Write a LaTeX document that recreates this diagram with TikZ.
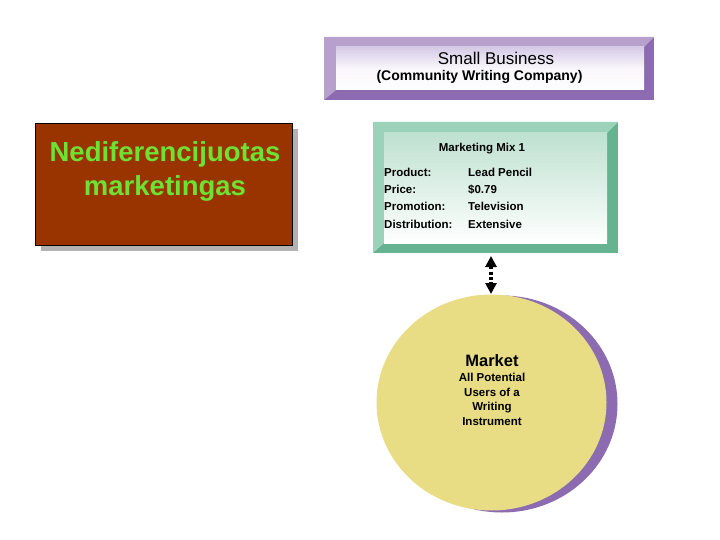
\documentclass[tikz,border=0pt]{standalone}
\usepackage{fontspec}
\setmainfont{Liberation Sans}
\usetikzlibrary{arrows.meta,shapes.geometric}
\definecolor{purpD}{RGB}{140,107,177}
\definecolor{purpL}{RGB}{183,160,204}
\definecolor{purpF}{RGB}{214,202,230}
\definecolor{greenD}{RGB}{102,179,145}
\definecolor{greenL}{RGB}{156,210,186}
\definecolor{greenF}{RGB}{190,225,208}
\definecolor{brownF}{RGB}{153,51,0}
\definecolor{txtgreen}{RGB}{110,226,50}
\definecolor{yellowF}{RGB}{232,220,132}
\tikzset{
  face/.style={draw=none,inner sep=0pt,rectangle},
  mixtxt/.style={font=\fontsize{11.5}{13}\selectfont\bfseries,anchor=base west,inner sep=0pt},
  mkttxt/.style={font=\fontsize{11.5}{14.5}\selectfont\bfseries,align=center,inner sep=0pt},
}
\begin{document}
\begin{tikzpicture}[x=1pt,y=-1pt]
\useasboundingbox (0,0) rectangle (720,540);
% ---------- purple box ----------
\fill[purpD] (324,37) rectangle (654,100);
\fill[purpL] (324,37) -- (654,37) -- (644,47) -- (336,47) -- (336,90) -- (324,100) -- cycle;
\node[face,minimum width=308pt,minimum height=43pt,top color=purpF,bottom color=white!95!purpF,middle color=white!85!purpF] (sb) at (490,68.5) {};
\node[inner sep=0pt,font=\fontsize{17}{19}\selectfont,anchor=base] (sbt) at (496,64.5) {Small Business};
\node[inner sep=0pt,font=\fontsize{14}{16}\selectfont\bfseries,anchor=base] (sbs) at (479.5,81) {(Community Writing Company)};
% ---------- brown box ----------
\fill[black!30] (41,129) rectangle (298,251);
\node[draw=black,line width=0.8pt,fill=brownF,minimum width=257pt,minimum height=122pt,inner sep=0pt] (nd) at (163.5,184) {};
\node[inner sep=0pt,font=\fontsize{27.5}{34}\selectfont\bfseries,text=txtgreen,align=center,anchor=north] (ndt) at (165,141.5)
  {Nediferencijuotas\\marketingas};
% ---------- green box ----------
\fill[greenD] (373,122) rectangle (618,253);
\fill[greenL] (373,122) -- (618,122) -- (607,133) -- (384,133) -- (384,243) -- (373,253) -- cycle;
\node[face,minimum width=223pt,minimum height=110pt,top color=greenF,bottom color=white] (mix) at (495.5,188) {};
\node[inner sep=0pt,font=\fontsize{11.5}{13}\selectfont\bfseries,anchor=base] (mixt) at (482,152) {Marketing Mix 1};
\node[mixtxt] (p1) at (384,177) {Product:};
\node[mixtxt] (p2) at (384,194) {Price:};
\node[mixtxt] (p3) at (384,211) {Promotion:};
\node[mixtxt] (p4) at (384,229) {Distribution:};
\node[mixtxt] (v1) at (468,177) {Lead Pencil};
\node[mixtxt] (v2) at (468,194) {\$0.79};
\node[mixtxt] (v3) at (468,211) {Television};
\node[mixtxt] (v4) at (468,229) {Extensive};
% ---------- market ----------
\fill[purpD] (502,404) ellipse [x radius=115.5pt, y radius=108.5pt];
\node[ellipse,fill=yellowF,minimum width=230pt,minimum height=216pt,inner sep=0pt] (mkt) at (491.5,402.5) {};
\node[inner sep=0pt,font=\fontsize{16.5}{19}\selectfont\bfseries,anchor=base] (mktt) at (492,366) {Market};
\node[mkttxt,anchor=north] (mkts) at (492,373) {All Potential\\Users of a\\Writing\\Instrument};
% ---------- arrow ----------
\coordinate (aTop) at (491,256);
\coordinate (aBot) at (491,294);
\draw[line width=3.2pt,dash pattern=on 3pt off 2.2pt,
      {Triangle[width=11pt,length=11pt]}-{Triangle[width=11pt,length=11pt]}]
  (aTop) -- (aBot);
\end{tikzpicture}
\end{document}
